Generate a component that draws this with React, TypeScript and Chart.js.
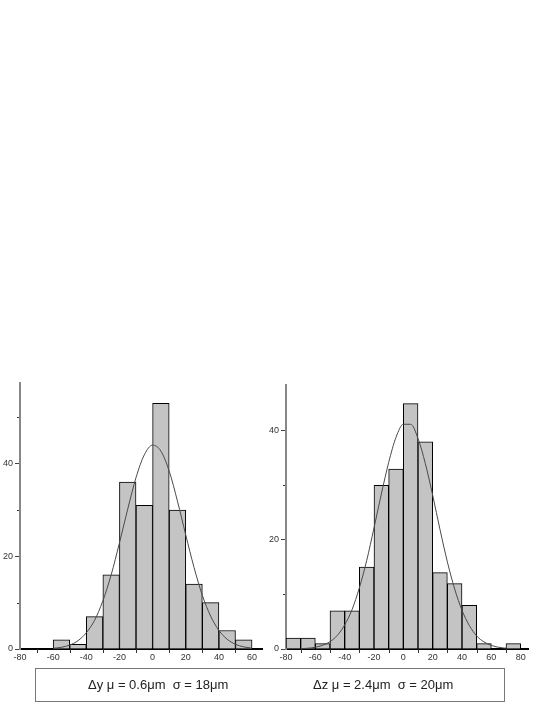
import React, { useEffect, useRef } from "react";
import { Chart, registerables } from "chart.js";

Chart.register(...registerables);

// ---------- data ----------
const leftBinStarts = [-60, -50, -40, -30, -20, -10, 0, 10, 20, 30, 40, 50];
const leftCounts = [2, 1, 7, 16, 36, 31, 53, 30, 14, 10, 4, 2];
const leftCurveX = [-60, -55, -50, -45, -40, -35, -30, -25, -20, -15, -10, -5, 0, 5, 10, 15, 20, 25, 30, 35, 40, 45, 50, 55, 60];
const leftCurveY = [0.15, 0.37, 0.85, 1.8, 3.5, 6.2, 10.4, 16.0, 22.9, 30.2, 37.0, 41.9, 44.0, 42.7, 38.4, 31.9, 24.6, 17.6, 11.6, 7.1, 4.0, 2.1, 1.0, 0.46, 0.19];
const leftXTicks = [-80, -60, -40, -20, 0, 20, 40, 60];
const leftXMinor = [-70, -50, -30, -10, 10, 30, 50];
const leftYTicks = [0, 20, 40];
const leftYMinor = [10, 30, 50];

const rightBinStarts = [-80, -70, -60, -50, -40, -30, -20, -10, 0, 10, 20, 30, 40, 50, 60, 70];
const rightCounts = [2, 2, 1, 7, 7, 15, 30, 33, 45, 38, 14, 12, 8, 1, 0, 1];
const rightCurveX = [-70, -65, -60, -55, -50, -45, -40, -35, -30, -25, -20, -15, -10, -5, 0, 5, 10, 15, 20, 25, 30, 35, 40, 45, 50, 55, 60, 65, 70];
const rightCurveY = [0.06, 0.14, 0.32, 0.68, 1.34, 2.5, 4.4, 7.2, 11.2, 16.2, 22.2, 28.4, 34.2, 38.8, 41.2, 41.2, 38.6, 34.0, 28.2, 21.9, 16.0, 11.0, 7.1, 4.3, 2.4, 1.3, 0.66, 0.31, 0.14];
const rightXTicks = [-80, -60, -40, -20, 0, 20, 40, 60, 80];
const rightXMinor = [-70, -50, -30, -10, 10, 30, 50, 70];
const rightYTicks = [0, 20, 40];
const rightYMinor = [10, 30];

const binWidth = 10;
const captionLeft = "\u0394y \u03bc = 0.6\u03bcm  \u03c3 = 18\u03bcm";
const captionRight = "\u0394z \u03bc = 2.4\u03bcm  \u03c3 = 20\u03bcm";

const FONT = "'Liberation Sans', Arial, sans-serif";

type HistProps = {
  binStarts: number[];
  counts: number[];
  curveX: number[];
  curveY: number[];
  xTicks: number[];
  xMinor: number[];
  yTicks: number[];
  yMinor: number[];
  xMin: number;
  xMax: number;
  yMax: number;
  yAxisWidth: number;
  padTop: number;
  padRight: number;
  left: number;
  width: number;
};

function Histogram(p: HistProps) {
  const ref = useRef<HTMLCanvasElement | null>(null);
  useEffect(() => {
    if (!ref.current) return;
    const minorPlugin = {
      id: "minorTicks",
      afterDraw(chart: any) {
        const ctx = chart.ctx;
        const xs = chart.scales.x;
        const ys = chart.scales.y;
        ctx.save();
        ctx.strokeStyle = "#333";
        ctx.lineWidth = 1;
        const axisY = chart.chartArea.bottom;
        p.xMinor.forEach((v) => {
          const px = Math.round(xs.getPixelForValue(v)) + 0.5;
          ctx.beginPath();
          ctx.moveTo(px, axisY);
          ctx.lineTo(px, axisY + 4);
          ctx.stroke();
        });
        const axisX = chart.chartArea.left;
        p.yMinor.forEach((v) => {
          const py = Math.round(ys.getPixelForValue(v)) + 0.5;
          ctx.beginPath();
          ctx.moveTo(axisX - 3, py);
          ctx.lineTo(axisX - 1, py);
          ctx.stroke();
        });
        ctx.restore();
      },
    };
    const chart = new Chart(ref.current, {
      type: "bar",
      data: {
        datasets: [
          {
            type: "line",
            data: p.curveX.map((x, i) => ({ x, y: p.curveY[i] })),
            borderColor: "#4a4a4a",
            borderWidth: 1,
            pointRadius: 0,
            cubicInterpolationMode: "monotone",
            fill: false,
            order: 0,
          } as any,
          {
            type: "bar",
            data: p.binStarts.map((s, i) => ({ x: s + binWidth / 2, y: p.counts[i] })),
            backgroundColor: "#c4c4c4",
            borderColor: "#000",
            borderWidth: 1,
            barPercentage: 1,
            categoryPercentage: 1,
            order: 1,
          } as any,
        ],
      },
      options: {
        animation: false,
        responsive: false,
        maintainAspectRatio: false,
        events: [],
        layout: { padding: { top: p.padTop, right: p.padRight, left: 0, bottom: 0 } },
        plugins: { legend: { display: false }, tooltip: { enabled: false } },
        scales: {
          x: {
            type: "linear",
            offset: false,
            min: p.xMin,
            max: p.xMax,
            afterBuildTicks: (scale: any) => {
              scale.ticks = p.xTicks.map((v) => ({ value: v }));
            },
            afterFit: (scale: any) => {
              scale.height = 21;
            },
            grid: { display: true, drawOnChartArea: false, drawTicks: false },
            border: { display: true, color: "#000", width: 2 },
            ticks: {
              padding: 3,
              maxRotation: 0,
              autoSkip: false,
              color: "#333",
              font: { family: FONT, size: 9 },
              callback: (v: any) => String(v),
            },
          },
          y: {
            type: "linear",
            min: 0,
            max: p.yMax,
            afterBuildTicks: (scale: any) => {
              scale.ticks = p.yTicks.map((v) => ({ value: v }));
            },
            afterFit: (scale: any) => {
              scale.width = p.yAxisWidth;
            },
            grid: { display: true, drawOnChartArea: false, drawTicks: true, tickLength: 5, tickColor: "#444", tickWidth: 1 },
            border: { display: true, color: "#888", width: 2 },
            ticks: {
              padding: 2,
              color: "#333",
              font: { family: FONT, size: 9 },
              callback: (v: any) => String(v),
            },
          },
        },
      } as any,
      plugins: [minorPlugin],
    });
    return () => chart.destroy();
  }, []);
  return (
    <canvas
      ref={ref}
      width={p.width}
      height={300}
      style={{ position: "absolute", left: p.left, top: 370, width: p.width, height: 300 }}
    />
  );
}

export default function App() {
  return (
    <div style={{ position: "absolute", left: 0, top: 0, width: 545, height: 705, background: "#fff", overflow: "hidden" }}>
      <Histogram
        binStarts={leftBinStarts}
        counts={leftCounts}
        curveX={leftCurveX}
        curveY={leftCurveY}
        xTicks={leftXTicks}
        xMinor={leftXMinor}
        yTicks={leftYTicks}
        yMinor={leftYMinor}
        xMin={-80}
        xMax={66}
        yMax={57.4}
        yAxisWidth={20}
        padTop={13}
        padRight={8}
        left={0}
        width={270}
      />
      <Histogram
        binStarts={rightBinStarts}
        counts={rightCounts}
        curveX={rightCurveX}
        curveY={rightCurveY}
        xTicks={rightXTicks}
        xMinor={rightXMinor}
        yTicks={rightYTicks}
        yMinor={rightYMinor}
        xMin={-80}
        xMax={85}
        yMax={48.4}
        yAxisWidth={24}
        padTop={15}
        padRight={17}
        left={262}
        width={283}
      />
      <div
        style={{
          position: "absolute",
          left: 35,
          top: 668,
          width: 470,
          height: 34,
          boxSizing: "border-box",
          border: "1px solid #777",
          fontFamily: FONT,
          fontSize: 13,
          color: "#222",
        }}
      >
        <span style={{ position: "absolute", left: 52, top: 8, whiteSpace: "pre" }}>{captionLeft}</span>
        <span style={{ position: "absolute", left: 277, top: 8, whiteSpace: "pre" }}>{captionRight}</span>
      </div>
    </div>
  );
}
